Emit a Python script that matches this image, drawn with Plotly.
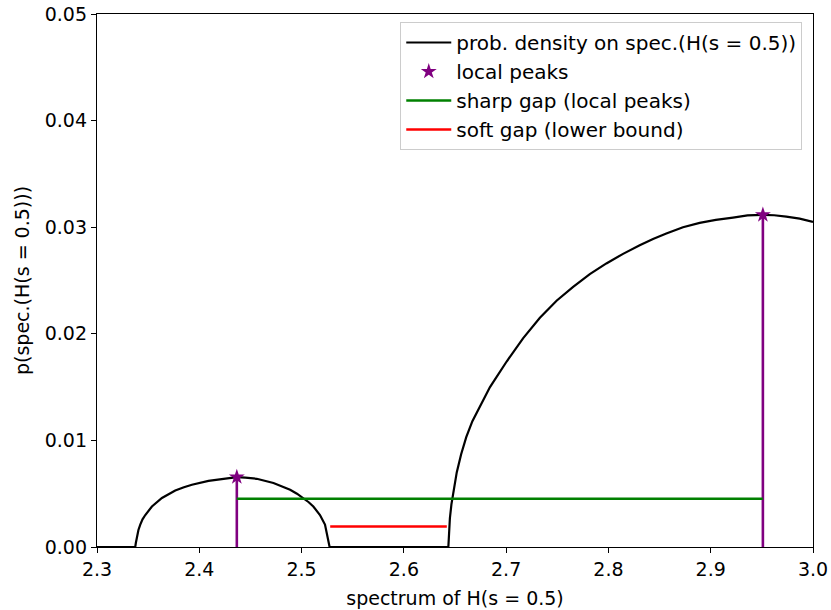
import plotly.graph_objects as go

# density curve
curve_x = [2.3000, 2.3374, 2.3380, 2.3391, 2.3405, 2.3423, 2.3445, 2.3472, 2.3537, 2.3635,
           2.3765, 2.3850, 2.3928, 2.4090, 2.4170, 2.4253, 2.4334, 2.4367, 2.4450, 2.4562,
           2.4725, 2.4810, 2.4888, 2.4955, 2.5017, 2.5070, 2.5115, 2.5180, 2.5229, 2.5255,
           2.5268, 2.5274,
           2.6435, 2.6440, 2.6450, 2.6465, 2.6485, 2.6517, 2.6560, 2.6610, 2.6670, 2.6727,
           2.6842, 2.7005, 2.7167, 2.7330, 2.7493, 2.7655, 2.7818, 2.7980, 2.8143, 2.8306,
           2.8436, 2.8566, 2.8729, 2.8892, 2.9050, 2.9218, 2.9360, 2.9505, 2.9620, 2.9739,
           2.9870, 3.0000]
curve_y = [0.0, 0.0, 0.0004, 0.0010, 0.0016, 0.0021, 0.0026, 0.0030, 0.0038, 0.0046,
           0.0053, 0.0056, 0.00584, 0.0062, 0.0063, 0.0064, 0.0065, 0.00656, 0.0065, 0.0064,
           0.0060, 0.0057, 0.00537, 0.0050, 0.0046, 0.0042, 0.0038, 0.0030, 0.0021, 0.0010,
           0.0004, 0.0,
           0.0, 0.0012, 0.0027, 0.0040, 0.0053, 0.0070, 0.0087, 0.0103, 0.0118, 0.0129,
           0.0150, 0.0174, 0.0196, 0.0215, 0.0231, 0.0244, 0.0256, 0.0266, 0.0275, 0.0283,
           0.0289, 0.0294, 0.0300, 0.0304, 0.03068, 0.0309, 0.0311, 0.03116, 0.03112, 0.0310,
           0.0308, 0.0305]

peak_x = [2.4367, 2.951]
peak_y = [0.00656, 0.03116]

sharp_gap_x = [2.4367, 2.951]
sharp_gap_y = [0.00453, 0.00453]

soft_gap_x = [2.528, 2.642]
soft_gap_y = [0.00193, 0.00193]

x_ticks = [2.3, 2.4, 2.5, 2.6, 2.7, 2.8, 2.9, 3.0]
y_ticks = [0.00, 0.01, 0.02, 0.03, 0.04, 0.05]

FONT = "DejaVu Sans"
FS = 19
LFS = 20

fig = go.Figure()

# vertical peak lines (not in legend)
vx, vy = [], []
for px, py in zip(peak_x, peak_y):
    vx += [px, px, None]
    vy += [0, py, None]

fig.add_trace(go.Scatter(x=curve_x, y=curve_y, mode="lines",
                         line=dict(color="black", width=2.2),
                         name="prob. density on spec.(H(s = 0.5))", legendgroup="a"))
fig.add_trace(go.Scatter(x=vx, y=vy, mode="lines",
                         line=dict(color="purple", width=2.6),
                         showlegend=False, hoverinfo="skip"))
fig.add_trace(go.Scatter(x=peak_x, y=peak_y, mode="markers",
                         marker=dict(symbol="star", color="purple", size=12),
                         name="local peaks", legendgroup="b"))
fig.add_trace(go.Scatter(x=sharp_gap_x, y=sharp_gap_y, mode="lines",
                         line=dict(color="green", width=2.6),
                         name="sharp gap (local peaks)", legendgroup="c"))
fig.add_trace(go.Scatter(x=soft_gap_x, y=soft_gap_y, mode="lines",
                         line=dict(color="red", width=2.6),
                         name="soft gap (lower bound)", legendgroup="d"))

fig.update_layout(
    width=831, height=610,
    margin=dict(l=97, r=18, t=14, b=63),
    paper_bgcolor="white", plot_bgcolor="white",
    font=dict(family=FONT, size=FS, color="black"),
    showlegend=True,
    legend=dict(x=0.985, y=0.985, xanchor="right", yanchor="top",
                bgcolor="white", bordercolor="#cccccc", borderwidth=1,
                font=dict(family=FONT, size=LFS), traceorder="normal",
                tracegroupgap=3.5, itemwidth=45),
    xaxis=dict(range=[2.3, 3.0], tickvals=x_ticks,
               ticktext=[f"{v:.1f}" for v in x_ticks], automargin=False,
               showgrid=False, zeroline=False, showline=True, linecolor="black",
               linewidth=1.3, mirror=True, ticks="outside", ticklen=5, tickwidth=1.3,
               tickcolor="black",
               title=dict(text="spectrum of H(s = 0.5)", standoff=12,
                          font=dict(family=FONT, size=FS))),
    yaxis=dict(range=[0, 0.05], tickvals=y_ticks,
               ticktext=[f"{v:.2f}" for v in y_ticks], automargin=False,
               showgrid=False, zeroline=False, showline=True, linecolor="black",
               linewidth=1.3, mirror=True, ticks="outside", ticklen=5, tickwidth=1.3,
               tickcolor="black",
               title=dict(text="p(spec.(H(s = 0.5)))", standoff=10,
                          font=dict(family=FONT, size=FS))),
)

fig.write_html("out.html")
